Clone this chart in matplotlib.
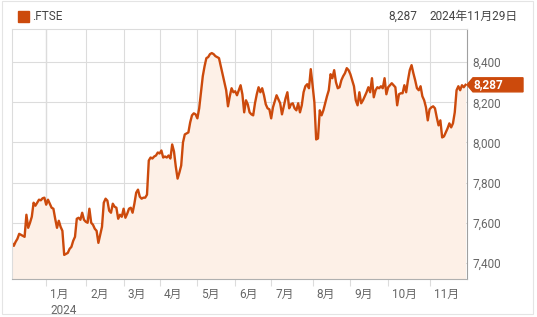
import numpy as np
import pandas as pd
import matplotlib
matplotlib.use("Agg")
import matplotlib.pyplot as plt
from matplotlib.patches import Rectangle, Polygon
from matplotlib.transforms import ScaledTranslation

plt.rcParams['font.family'] = ['Roboto', 'Noto Sans CJK JP', 'DejaVu Sans']

# UK trading days, Dec 2023 - Nov 2024
uk_holidays = ["2023-12-25", "2023-12-26", "2024-01-01", "2024-03-29", "2024-04-01",
               "2024-05-06", "2024-05-27", "2024-08-26"]
dates = pd.bdate_range("2023-12-01", "2024-11-29", freq="C", holidays=uk_holidays)

# closing values, month by month
dec = [7500, 7485, 7505, 7520, 7545, 7540, 7535, 7530, 7640, 7575, 7600, 7630, 7700, 7685,
       7700, 7715, 7712, 7722, 7725]
jan = [7690, 7715, 7695, 7675, 7670, 7620, 7575, 7610, 7580, 7560, 7440, 7445, 7450, 7470,
       7480, 7510, 7530, 7620, 7625, 7615, 7650, 7615]
feb = [7605, 7600, 7670, 7600, 7590, 7570, 7560, 7500, 7540, 7580, 7700, 7720, 7710, 7660,
       7650, 7695, 7680, 7675, 7620, 7640, 7630]
mar = [7670, 7625, 7645, 7670, 7675, 7650, 7695, 7750, 7765, 7730, 7720, 7725, 7725, 7740,
       7910, 7925, 7920, 7930, 7935, 7950]
apr = [7945, 7960, 7925, 7930, 7925, 7935, 7920, 7990, 7955, 7880, 7820, 7850, 7885, 8000,
       8040, 8045, 8050, 8100, 8135, 8145, 8140]
may = [8120, 8170, 8250, 8330, 8380, 8420, 8425, 8440, 8445, 8440, 8430, 8425, 8420, 8380,
       8340, 8300, 8260, 8180, 8230, 8270, 8250]
jun = [8255, 8235, 8260, 8285, 8240, 8150, 8210, 8190, 8150, 8140, 8135, 8195, 8240, 8275,
       8250, 8270, 8235, 8190, 8170, 8165]
jul = [8120, 8175, 8205, 8235, 8215, 8195, 8140, 8180, 8220, 8250, 8170, 8190, 8195, 8170,
       8160, 8195, 8150, 8185, 8250, 8280, 8290, 8270, 8365]
aug = [8285, 8200, 8015, 8020, 8160, 8135, 8160, 8195, 8230, 8260, 8340, 8320, 8360, 8300,
       8270, 8275, 8310, 8330, 8345, 8370, 8360]
sep = [8340, 8310, 8280, 8210, 8185, 8250, 8195, 8210, 8230, 8250, 8275, 8250, 8320, 8225,
       8260, 8275, 8270, 8280, 8270, 8320, 8240]
oct_ = [8275, 8285, 8295, 8285, 8275, 8185, 8240, 8245, 8245, 8285, 8250, 8310, 8360, 8385,
        8345, 8310, 8270, 8260, 8280, 8230, 8210, 8175, 8110]
nov = [8165, 8175, 8180, 8170, 8125, 8085, 8110, 8025, 8030, 8050, 8070, 8095, 8075, 8095,
       8150, 8260, 8280, 8260, 8285, 8275, 8287]

closes = np.array(dec + jan + feb + mar + apr + may + jun + jul + aug + sep + oct_ + nov)
yticks = [7400, 7600, 7800, 8000, 8200, 8400]

ORANGE = "#cc4a0c"
FILL = "#fdf0e7"
GRID = "#dcdcdc"
TEXT = "#666666"

x = np.arange(len(closes))
last = closes[-1]

fig = plt.figure(figsize=(5.37, 3.17), dpi=100)
ax = fig.add_axes([12 / 537, 38 / 317, 455 / 537, 250 / 317])

ax.fill_between(x, closes, 7000, color=FILL, lw=0)
ax.plot(x, closes, color=ORANGE, lw=1.7, solid_joinstyle="round")

ax.set_xlim(0, 252.8)
ax.set_ylim(7320, 8565)

# month ticks at first trading day of each month
tick_pos = [i for i in range(1, len(dates)) if dates[i].month != dates[i - 1].month]
tick_lab = [f"{dates[i].month}月" + ("\n2024" if dates[i].month == 1 else "") for i in tick_pos]
ax.set_xticks(tick_pos)
ax.set_xticklabels(tick_lab, fontsize=8.5, color=TEXT, linespacing=1.3)
ax.tick_params(axis="x", length=5, color=GRID, pad=1.5)
for lab in ax.get_xticklabels():
    lab.set_horizontalalignment("left")
    lab.set_verticalalignment("top")
    lab.set_transform(lab.get_transform() + ScaledTranslation(3 / 72, 0, fig.dpi_scale_trans))

ax.yaxis.tick_right()
ax.set_yticks(yticks)
ax.set_yticklabels([f"{v:,}" for v in yticks], fontsize=8.5, color=TEXT)
ax.tick_params(axis="y", length=0, pad=4)

ax.grid(True, color=GRID, lw=0.8)
ax.set_axisbelow(True)
for i in tick_pos:
    if dates[i].month == 1:
        ax.axvline(i, color="#9a9a9a", lw=0.8, zorder=0.5)

ax.spines["left"].set_color(GRID)
ax.spines["top"].set_color(GRID)
ax.spines["bottom"].set_color("#b0b0b0")
ax.spines["right"].set_color("#a0a0a0")
for s in ax.spines.values():
    s.set_linewidth(0.8)

# last-price tag on the right axis
ytr = ax.get_yaxis_transform()
px = 1 / 455
ax.add_patch(Polygon([(1.0, last), (1.0 + 6 * px, last + 35), (1.0 + 56 * px, last + 35),
                      (1.0 + 56 * px, last - 35), (1.0 + 6 * px, last - 35)],
                     closed=True, transform=ytr, color=ORANGE, clip_on=False, zorder=5))
ax.text(1.0 + 7 * px, last, f"{last:,}", transform=ytr, color="white", fontsize=8.5,
        fontweight="bold", va="center", ha="left", zorder=6, clip_on=False)

# header
fig.patches.append(Rectangle((18 / 537, 1 - 22 / 317), 11 / 537, 11 / 317,
                             transform=fig.transFigure, color=ORANGE))
fig.text(32 / 537, 1 - 16 / 317, ".FTSE", fontsize=8.5, color="#444444", va="center")
fig.text(417 / 537, 1 - 16 / 317, f"{last:,}", fontsize=8.5, color="#444444",
         va="center", ha="right")
fig.text(518 / 537, 1 - 16 / 317, "2024年11月29日", fontsize=8.5, color="#444444",
         va="center", ha="right")

# outer frame
fig.patches.append(Rectangle((2 / 537, 3 / 317), 531 / 537, 313 / 317,
                             transform=fig.transFigure, fill=False, ec="#e4e4e4", lw=0.8))

fig.savefig("out.png", dpi=100)
